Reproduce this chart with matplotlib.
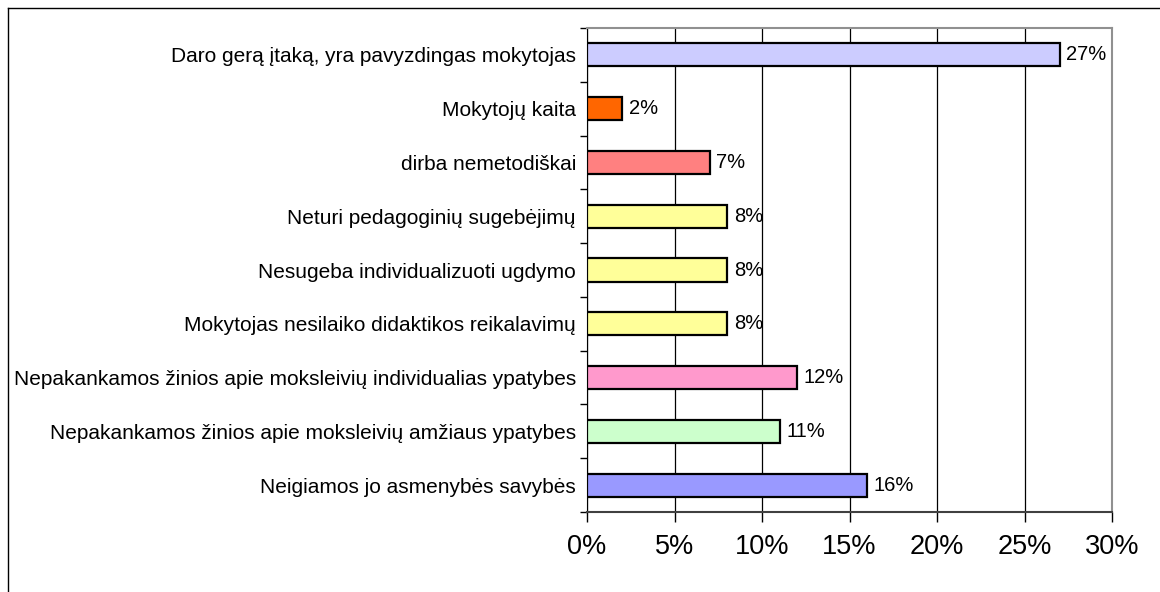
import matplotlib.pyplot as plt
from matplotlib.lines import Line2D
import numpy as np

plt.rcParams['font.family'] = ['Liberation Sans', 'DejaVu Sans']

# categories from top to bottom, as in the picture
categories = [
    'Daro gerą įtaką, yra pavyzdingas mokytojas',
    'Mokytojų kaita',
    'dirba nemetodiškai',
    'Neturi pedagoginių sugebėjimų',
    'Nesugeba individualizuoti ugdymo',
    'Mokytojas nesilaiko didaktikos reikalavimų',
    'Nepakankamos žinios apie moksleivių individualias ypatybes',
    'Nepakankamos žinios apie moksleivių amžiaus ypatybes',
    'Neigiamos jo asmenybės savybės',
]
values = [27, 2, 7, 8, 8, 8, 12, 11, 16]
colors = ['#CCCCFF', '#FF6600', '#FF8080', '#FFFF99', '#FFFF99',
          '#FFFF99', '#FF99CC', '#CCFFCC', '#9999FF']
x_ticks = [0, 5, 10, 15, 20, 25, 30]

W, H = 1160, 592
fig = plt.figure(figsize=(W / 100, H / 100), dpi=100)
ax = fig.add_axes([587 / W, (H - 512) / H, (1112 - 587) / W, (512 - 28) / H])

y = np.arange(len(categories))[::-1]
ax.barh(y, values, height=0.43, color=colors, edgecolor='black', linewidth=1.6, zorder=3)

for yi, v in zip(y, values):
    ax.annotate(f'{v}%', (v, yi), xytext=(5, 0), textcoords='offset points',
                va='center', ha='left', fontsize=14.5, zorder=4)

ax.set_xlim(0, 30)
ax.set_ylim(-0.5, len(categories) - 0.5)
ax.set_xticks(x_ticks)
ax.set_xticklabels([f'{t}%' for t in x_ticks], fontsize=19.5)
ax.set_yticks(y)
ax.set_yticklabels(categories, fontsize=15)
ax.set_yticks(np.arange(-0.5, len(categories), 1), minor=True)
ax.tick_params(axis='y', which='major', length=0, pad=8)
ax.tick_params(axis='y', which='minor', length=5, width=1, color='black')
ax.tick_params(axis='x', length=7, width=1, color='black', pad=9)

ax.grid(axis='x', color='black', linewidth=0.9, zorder=0)
ax.spines['top'].set_color('#909090')
ax.spines['right'].set_color('#909090')
ax.spines['right'].set_linewidth(1.5)
ax.spines['top'].set_linewidth(1.5)
ax.spines['left'].set_color('black')
ax.spines['bottom'].set_color('#404040')
ax.spines['bottom'].set_linewidth(1.5)

# outer frame (left and top edges)
fx, fy = 7.5 / W, 1 - 7.5 / H
fig.add_artist(Line2D([fx, 1], [fy, fy], color='black', linewidth=1))
fig.add_artist(Line2D([fx, fx], [0, fy], color='black', linewidth=1))

fig.savefig('out.png', dpi=100)
